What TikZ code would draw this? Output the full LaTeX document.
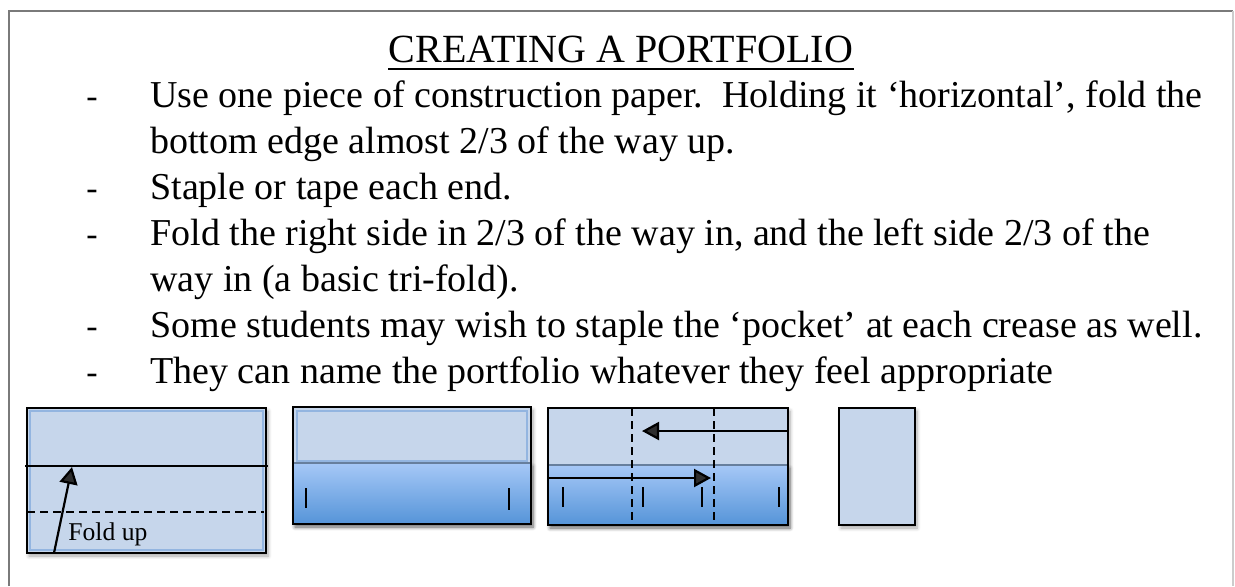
\documentclass[tikz,border=0pt]{standalone}
\usepackage{fontspec}
\setmainfont{Liberation Serif}
\usepackage{tikz}
\usetikzlibrary{arrows.meta,shadows.blur}
\definecolor{paper}{HTML}{C6D6EB}
\definecolor{paperedge}{HTML}{93B5E0}
\definecolor{pockettop}{HTML}{A6C8F7}
\definecolor{pocketbot}{HTML}{5594D8}
\definecolor{framegray}{HTML}{7A7A7A}

\begin{document}
\begin{tikzpicture}[x=0.5pt,y=-0.5pt,
 heading/.style={anchor=base,inner sep=0pt,font=\fontsize{20}{24}\selectfont},
 textline/.style={anchor=base west,inner sep=0pt,font=\fontsize{19}{23}\selectfont},
 bulletmark/.style={anchor=base,inner sep=0pt,font=\fontsize{17}{20}\selectfont},
 sheet/.style={draw=black,line width=1.2pt},
 shade/.style={fill=white,blur shadow={shadow xshift=1pt,shadow yshift=-1.5pt,shadow opacity=35,shadow blur steps=6}},
 rim/.style={draw=paperedge,line width=0.7pt},
 pocket/.style={top color=pockettop,bottom color=pocketbot},
 crease/.style={line width=1pt,dash pattern=on 4pt off 2.5pt},
 staple/.style={line width=1.2pt},
 flow/.style={-{Triangle[length=8.5pt,width=9pt]},line width=1.1pt}]
\useasboundingbox (0,0) rectangle (1235,586);
% page frame, open at the bottom
\draw[framegray,line width=1.4pt] (9,586) -- (9,11) -- (1233,11);
\draw[black!20,line width=0.8pt] (1233,11) -- (1233,586);

% heading and steps
\node[heading] (title) at (621,62) {CREATING A PORTFOLIO};
\draw[line width=0.9pt] ([yshift=-3.5pt]title.base west) -- ([yshift=-3.5pt]title.base east);
\node[textline] (s1a) at (150,107) {Use one piece of construction paper.\ \ Holding it ‘horizontal’, fold the};
\node[textline] (s1b) at (150,153) {bottom edge almost 2/3 of the way up.};
\node[textline] (s2) at (150,199) {Staple or tape each end.};
\node[textline] (s3a) at (150,245) {Fold the right side in 2/3 of the way in, and the left side 2/3 of the};
\node[textline] (s3b) at (150,291) {way in (a basic tri-fold).};
\node[textline] (s4) at (150,337) {Some students may wish to staple the ‘pocket’ at each crease as well.};
\node[textline] (s5) at (150,383) {They can name the portfolio whatever they feel appropriate};
\foreach \s in {s1a,s2,s3a,s4,s5}
  \node[bulletmark] at ([xshift=-29pt]\s.base west) {-};

% sheet 1: fold the bottom edge up
\path[shade] (27,408) rectangle (266,553);
\fill[paper] (27,408) rectangle (266,553);
\draw[rim] (30,411) rectangle (263,550);
\draw[sheet] (27,408) rectangle (266,553);
\draw[line width=1.3pt] (25,466) -- (268,466);
\draw[crease] (27,512) -- (264,512);
\coordinate (foot) at (54,553);
\coordinate (lip) at (72,467);
\draw[flow] (foot) -- (lip);
\node[textline,font=\fontsize{12.8}{15}\selectfont] (foldup) at (68,540) {Fold up};

% sheet 2: pocket stapled at both ends
\path[shade] (293,407) rectangle (531,524);
\fill[paper] (293,407) rectangle (531,463);
\draw[rim] (297,411) rectangle (527,461);
\shade[pocket] (293,463) rectangle (531,524);
\draw[paperedge!70!black,line width=0.6pt] (293,463) -- (531,463);
\draw[sheet] (293,407) rectangle (531,524);
\foreach \x/\b in {306/508,509/510}
  \draw[staple] (\x,488) -- (\x,\b);

% sheet 3: tri-fold
\path[shade] (548,408) rectangle (788,525);
\fill[paper] (548,408) rectangle (788,465);
\shade[pocket] (548,465) rectangle (788,525);
\draw[paperedge!70!black,line width=0.6pt] (548,465) -- (788,465);
\draw[sheet] (548,408) rectangle (788,525);
\foreach \x in {563,643,702,779}
  \draw[staple] (\x,487) -- (\x,507);
\foreach \x in {632,714}
  \draw[crease] (\x,408) -- (\x,525);
\coordinate (rgt) at (788,431);
\coordinate (rgtin) at (642,431);
\coordinate (lft) at (548,478);
\coordinate (lftin) at (711,478);
\draw[flow] (rgt) -- (rgtin);
\draw[flow] (lft) -- (lftin);

% sheet 4: folded portfolio
\path[shade] (839,408) rectangle (915,525);
\draw[sheet,fill=paper] (839,408) rectangle (915,525);
\end{tikzpicture}
\end{document}
